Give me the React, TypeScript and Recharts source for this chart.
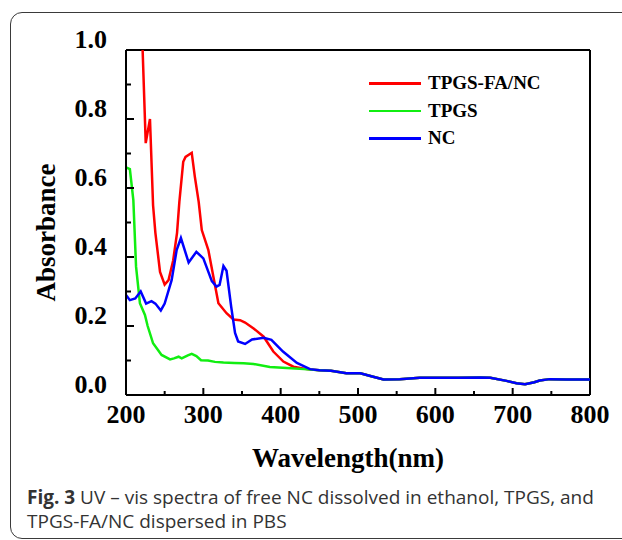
import React from 'react';
import { LineChart, Line, XAxis, YAxis, ReferenceLine, Legend } from 'recharts';

// wavelengths (nm) and absorbance
const redWl = [221.5, 225.5, 231, 235, 238, 244, 250, 255, 261, 266, 269, 274, 277, 285, 289, 294, 298, 306.5, 313, 319.5, 330, 339, 347.5, 354, 365, 378, 390.5, 403.5, 416.5, 434];
const redAbs = [1.0, 0.73, 0.8, 0.55, 0.47, 0.357, 0.32, 0.333, 0.39, 0.47, 0.56, 0.676, 0.69, 0.702, 0.633, 0.56, 0.478, 0.42, 0.343, 0.266, 0.237, 0.219, 0.217, 0.21, 0.193, 0.169, 0.126, 0.097, 0.082, 0.075];

const greenWl = [200, 205, 209.5, 213, 218, 224.5, 228, 235, 246, 257, 262, 268, 272, 280, 285, 291, 297, 306, 315, 326, 340, 352, 365, 386, 408, 430];
const greenAbs = [0.66, 0.655, 0.565, 0.372, 0.266, 0.232, 0.2, 0.15, 0.116, 0.103, 0.106, 0.111, 0.106, 0.115, 0.119, 0.113, 0.101, 0.1, 0.096, 0.094, 0.093, 0.092, 0.09, 0.081, 0.078, 0.075];

const blueWl = [200, 205, 212, 219, 226, 233, 238, 245, 250, 259, 265.5, 271, 281, 291, 300, 311, 317, 321, 326, 330, 336, 341, 345, 354, 363, 378, 388, 403, 421, 438];
const blueAbs = [0.29, 0.275, 0.28, 0.3, 0.265, 0.272, 0.265, 0.245, 0.265, 0.333, 0.42, 0.455, 0.384, 0.415, 0.396, 0.33, 0.314, 0.319, 0.374, 0.36, 0.256, 0.18, 0.155, 0.148, 0.161, 0.166, 0.16, 0.126, 0.093, 0.075];

// the three spectra run together past ~450 nm
const tailWl = [450, 465, 485, 503, 516, 533, 554, 580, 606, 630, 658, 671, 692, 705, 716, 728, 735, 748, 770, 800];
const tailAbs = [0.072, 0.07, 0.063, 0.063, 0.055, 0.045, 0.046, 0.05, 0.05, 0.05, 0.051, 0.05, 0.041, 0.034, 0.031, 0.037, 0.042, 0.046, 0.045, 0.045];

const seriesNames = ['TPGS-FA/NC', 'TPGS', 'NC'];
const xTicks = [200, 250, 300, 350, 400, 450, 500, 550, 600, 650, 700, 750, 800];
const yTicks = [0, 0.1, 0.2, 0.3, 0.4, 0.5, 0.6, 0.7, 0.8, 0.9, 1.0];

const build = (wl: number[], abs: number[]) => {
    const pts = wl.map((w, i) => ({ wl: w, abs: abs[i] }));
    return pts.concat(tailWl.map((w, i) => ({ wl: w, abs: tailAbs[i] })));
};

const redData = build(redWl, redAbs);
const greenData = build(greenWl, greenAbs);
const blueData = build(blueWl, blueAbs);

const serif = '"Liberation Serif", "Times New Roman", serif';

const XTick = ({ x, y, payload }: any) => {
    const major = payload.value % 100 === 0;
    return (
        <g>
            <line x1={x} y1={y} x2={x} y2={y - (major ? 7 : 4)} stroke="#000" strokeWidth={2} />
            {major && (
                <text x={x} y={y + 19} textAnchor="middle" dominantBaseline="central"
                    fontFamily={serif} fontWeight="bold" fontSize={26} fill="#000">
                    {payload.value}
                </text>
            )}
        </g>
    );
};

const YTick = ({ x, y, payload }: any) => {
    const major = Math.round(payload.value * 10) % 2 === 0;
    return (
        <g>
            <line x1={x} y1={y} x2={x + (major ? 8 : 5)} y2={y} stroke="#000" strokeWidth={2} />
            {major && (
                <text x={x - 19} y={y - 11} textAnchor="end" dominantBaseline="central"
                    fontFamily={serif} fontWeight="bold" fontSize={26} fill="#000">
                    {payload.value.toFixed(1)}
                </text>
            )}
        </g>
    );
};

const LegendBox = ({ payload }: any) => {
    const items = [...(payload || [])].sort(
        (a: any, b: any) => seriesNames.indexOf(a.value) - seriesNames.indexOf(b.value)
    );
    return (
        <div style={{ fontFamily: serif, fontWeight: 'bold', fontSize: 19, color: '#000' }}>
            {items.map((p: any) => (
                <div key={p.value} style={{ display: 'flex', alignItems: 'center', height: 27.5 }}>
                    <div style={{ width: 52, height: 2.5, background: p.color, marginRight: 7 }} />
                    <span style={{ whiteSpace: 'nowrap' }}>{p.value}</span>
                </div>
            ))}
        </div>
    );
};

export default function App() {
    return (
        <div style={{ position: 'fixed', left: 0, top: 0, width: 622, height: 540, overflow: 'hidden', background: '#fff' }}>
            <div style={{
                position: 'absolute', left: 10, top: 12, width: 660, height: 525,
                border: '1.5px solid #3a3a3a', borderRadius: 12
            }} />
            <LineChart width={622} height={540} margin={{ top: 50, right: 32, bottom: 85, left: 0 }}
                style={{ position: 'absolute', left: 0, top: 0 }}>
                <XAxis
                    dataKey="wl"
                    type="number"
                    domain={[200, 800]}
                    ticks={xTicks}
                    interval={0}
                    height={60}
                    tickSize={0}
                    tickMargin={0}
                    tickLine={false}
                    axisLine={{ stroke: '#000', strokeWidth: 2 }}
                    tick={<XTick />}
                    allowDuplicatedCategory={false}
                    label={{
                        content: ({ viewBox }: any) => (
                            <text x={viewBox.x + viewBox.width / 2 - 10} y={viewBox.y + 63}
                                textAnchor="middle" dominantBaseline="central"
                                fontFamily={serif} fontWeight="bold" fontSize={27} fill="#000">
                                Wavelength(nm)
                            </text>
                        )
                    }}
                />
                <YAxis
                    type="number"
                    domain={[0, 1]}
                    ticks={yTicks}
                    interval={0}
                    width={126}
                    tickSize={0}
                    tickMargin={0}
                    tickLine={false}
                    axisLine={{ stroke: '#000', strokeWidth: 2 }}
                    tick={<YTick />}
                    label={{
                        content: ({ viewBox }: any) => {
                            const cx = viewBox.x + 46;
                            const cy = viewBox.y + viewBox.height / 2 + 10;
                            return (
                                <text x={cx} y={cy} transform={`rotate(-90 ${cx} ${cy})`}
                                    textAnchor="middle" dominantBaseline="central"
                                    fontFamily={serif} fontWeight="bold" fontSize={27} fill="#000">
                                    Absorbance
                                </text>
                            );
                        }
                    }}
                />
                <ReferenceLine y={1} stroke="#000" strokeWidth={2} />
                <ReferenceLine x={800} stroke="#000" strokeWidth={2} />
                <Legend
                    layout="vertical"
                    align="center"
                    verticalAlign="middle"
                    content={<LegendBox />}
                    wrapperStyle={{ left: 369, top: 69.5, width: 200, height: 83 }}
                />
                <Line data={redData} dataKey="abs" name="TPGS-FA/NC" type="linear" stroke="#ff0000"
                    strokeWidth={2.5} dot={false} isAnimationActive={false} />
                <Line data={greenData} dataKey="abs" name="TPGS" type="linear" stroke="#11ee11"
                    strokeWidth={2.5} dot={false} isAnimationActive={false} />
                <Line data={blueData} dataKey="abs" name="NC" type="linear" stroke="#0000ff"
                    strokeWidth={2.5} dot={false} isAnimationActive={false} />
            </LineChart>
            <div style={{
                position: 'absolute', left: 27, top: 485, fontFamily: '"Open Sans", sans-serif',
                fontSize: 19, lineHeight: '24px', color: '#333', whiteSpace: 'nowrap'
            }}>
                <b>Fig. 3</b> UV – vis spectra of free NC dissolved in ethanol, TPGS, and<br />
                TPGS-FA/NC dispersed in PBS
            </div>
        </div>
    );
}
